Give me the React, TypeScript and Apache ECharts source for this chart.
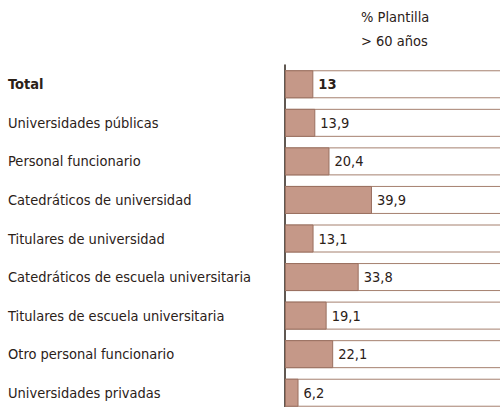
import React, { useEffect, useRef } from "react";
import * as echarts from "echarts";

const categories = [
  "Total",
  "Universidades públicas",
  "Personal funcionario",
  "Catedráticos de universidad",
  "Titulares de universidad",
  "Catedráticos de escuela universitaria",
  "Titulares de escuela universitaria",
  "Otro personal funcionario",
  "Universidades privadas",
];
const values = [13, 13.9, 20.4, 39.9, 13.1, 33.8, 19.1, 22.1, 6.2];
const trackMax = 100;
const backgroundValues = categories.map(() => trackMax);
const headerLines = ["% Plantilla", "> 60 años"];

const FONT = "'Liberation Sans Narrow', 'DejaVu Sans Condensed', 'Roboto', sans-serif";
const TEXT = "#2b2118";
const FS = 14.5;

export default function App() {
  const ref = useRef<HTMLDivElement>(null);
  useEffect(() => {
    if (!ref.current) return;
    const chart = echarts.init(ref.current, null, { renderer: "svg" });
    const fmt = (v: number) => String(v).replace(".", ",");
    chart.setOption({
      animation: false,
      textStyle: { fontFamily: FONT },
      grid: {
        left: 285,
        top: 65,
        width: 218,
        height: 347,
        containLabel: false,
        outerBoundsMode: "none",
      },
      xAxis: { type: "value", min: 0, max: trackMax, show: false },
      yAxis: {
        type: "category",
        inverse: true,
        data: categories,
        axisLine: { show: true, lineStyle: { color: TEXT, width: 1.5 } },
        axisTick: { show: false },
        axisLabel: {
          align: "left",
          margin: 277,
          fontFamily: FONT,
          fontSize: FS,
          color: TEXT,
          formatter: (v: string, i: number) => (i === 0 ? `{b|${v}}` : v),
          rich: { b: { fontWeight: "bold", fontSize: FS, fontFamily: FONT, color: TEXT } },
        },
      },
      series: [
        {
          type: "bar",
          data: backgroundValues,
          barWidth: 28,
          barGap: "-100%",
          silent: true,
          itemStyle: { color: "#ffffff", borderColor: "#a5806f", borderWidth: 1 },
          z: 1,
        },
        {
          type: "bar",
          data: values,
          barWidth: 28,
          itemStyle: { color: "#c59888", borderColor: "#9a7060", borderWidth: 1 },
          z: 2,
          label: {
            show: true,
            position: "right",
            distance: 5,
            fontFamily: FONT,
            fontSize: FS,
            color: TEXT,
            formatter: (p: any) => (p.dataIndex === 0 ? `{b|${fmt(p.value)}}` : fmt(p.value)),
            rich: { b: { fontWeight: "bold", fontSize: FS, fontFamily: FONT, color: TEXT } },
          },
        },
      ],
      graphic: headerLines.map((t, i) => ({
        type: "text",
        left: 361,
        top: 9 + i * 24,
        style: { text: t, fontFamily: FONT, fontSize: FS, fill: TEXT },
      })),
    });
    return () => chart.dispose();
  }, []);
  return (
    <div
      ref={ref}
      style={{ position: "fixed", left: 0, top: 0, width: 500, height: 407, background: "#fff" }}
    />
  );
}
